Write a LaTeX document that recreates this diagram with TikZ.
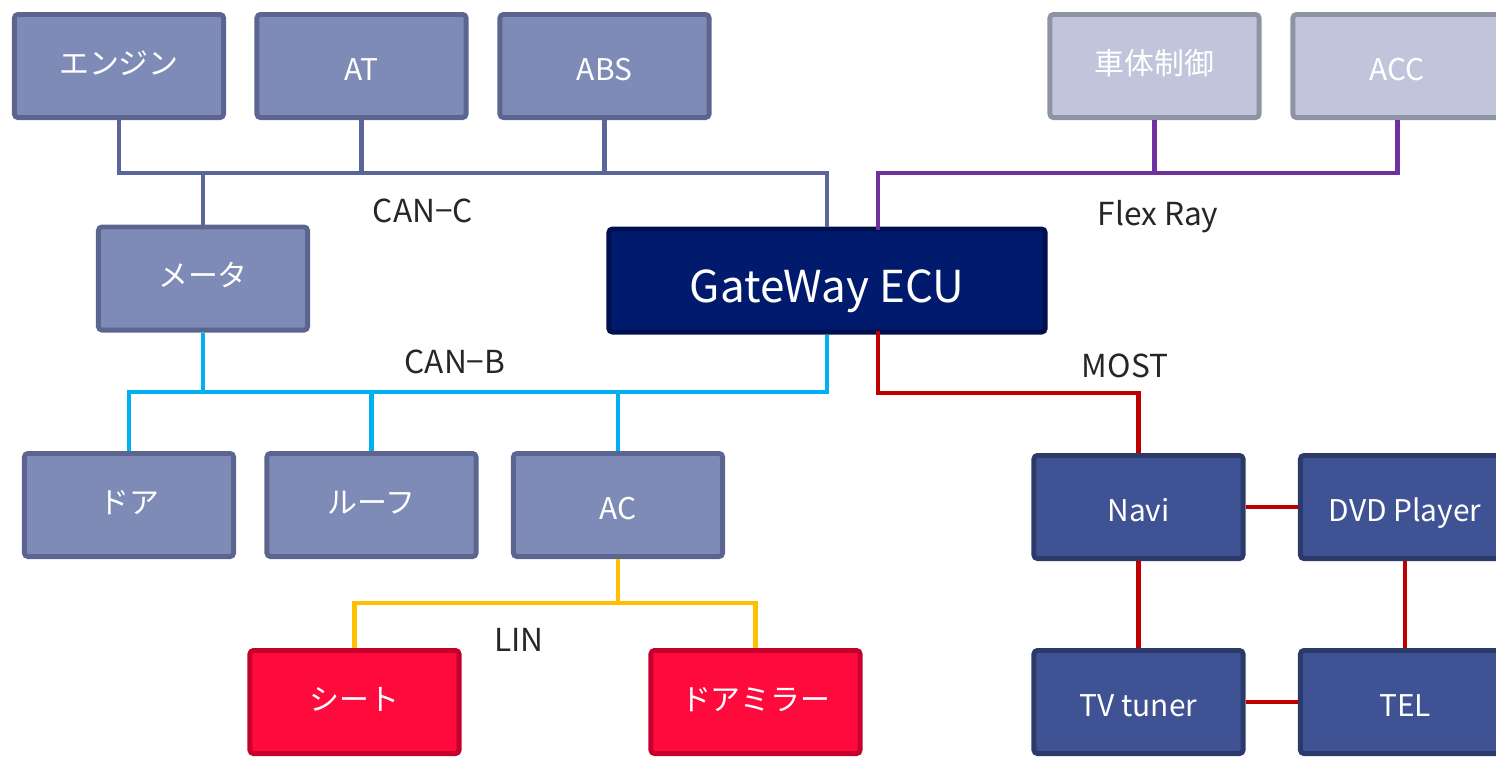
\documentclass[tikz,border=0pt]{standalone}
\usepackage{fontspec}
\setmainfont{Noto Sans CJK JP}
\definecolor{ecuMidFill}{HTML}{7F8BB7}
\definecolor{ecuMidLine}{HTML}{5B6590}
\definecolor{ecuLightFill}{HTML}{C0C5DC}
\definecolor{ecuLightLine}{HTML}{8F94A2}
\definecolor{gwFill}{HTML}{001A6E}
\definecolor{gwLine}{HTML}{00104F}
\definecolor{mmFill}{HTML}{3F5293}
\definecolor{mmLine}{HTML}{2C3A6A}
\definecolor{linFill}{HTML}{FF0A3C}
\definecolor{linLine}{HTML}{C4002C}
\definecolor{busCanC}{HTML}{5A6599}
\definecolor{busFlex}{HTML}{7030A0}
\definecolor{busCanB}{HTML}{00B0F0}
\definecolor{busMost}{HTML}{C00000}
\definecolor{busLin}{HTML}{FFC000}
\definecolor{busText}{HTML}{262626}
\begin{document}
\begin{tikzpicture}[x=0.01cm,y=-0.01cm,
  ecubox/.style={rectangle, rounded corners=1pt, line width=1.4pt,
    minimum width=2.09cm, minimum height=1.03cm, inner sep=0pt,
    text=white, font=\fontsize{8.5pt}{10pt}\selectfont,
    text height=9.2pt, text depth=1pt},
  jp/.style={text height=5.8pt, text depth=1pt},
  midbox/.style={ecubox, fill=ecuMidFill, draw=ecuMidLine},
  lightbox/.style={ecubox, fill=ecuLightFill, draw=ecuLightLine},
  mmbox/.style={ecubox, fill=mmFill, draw=mmLine},
  linbox/.style={ecubox, fill=linFill, draw=linLine},
  gwbox/.style={ecubox, fill=gwFill, draw=gwLine,
    minimum width=4.36cm, minimum height=1.03cm,
    font=\fontsize{12.5pt}{14pt}\selectfont,
    text height=13.3pt, text depth=1pt},
  bus/.style={line width=1.15pt, line join=miter},
  canc/.style={bus, draw=busCanC},
  flex/.style={bus, draw=busFlex},
  canb/.style={bus, draw=busCanB},
  most/.style={bus, draw=busMost},
  lin/.style={bus, draw=busLin},
  buslabel/.style={text=busText, inner sep=0pt, font=\fontsize{9pt}{11pt}\selectfont}]
\useasboundingbox (0,0) rectangle (1496,756);
\clip (0,0) rectangle (1496,756);

% ECUs on CAN-C / FlexRay
\node[midbox, jp] (engine) at (119,66) {エンジン};
\node[midbox] (at) at (361.5,66) {AT};
\node[midbox] (abs) at (604.5,66) {ABS};
\node[lightbox, jp] (body) at (1154.5,66) {車体制御};
\node[lightbox] (acc) at (1397.5,66) {ACC};
\node[midbox, jp] (meter) at (203,278.5) {メータ};
\node[gwbox] (gw) at (827,280.5) {GateWay ECU};

% ECUs on CAN-B
\node[midbox, jp] (door) at (129,505) {ドア};
\node[midbox, jp] (roof) at (371.5,505) {ルーフ};
\node[midbox] (ac) at (618,505) {AC};

% MOST ring
\node[mmbox] (navi) at (1138.5,507) {Navi};
\node[mmbox] (dvd) at (1405,507) {DVD Player};
\node[mmbox] (tv) at (1138.5,702) {TV tuner};
\node[mmbox] (tel) at (1405,702) {TEL};

% LIN slaves
\node[linbox, jp] (seat) at (354.5,702) {シート};
\node[linbox, jp] (mirror) at (755.5,702) {ドアミラー};

% bus rails
\coordinate (cy) at (0,173);
\coordinate (by) at (0,392);
\coordinate (my) at (0,393);
\coordinate (ly) at (0,603);
\coordinate (gwFR) at (878,230);
\coordinate (gwMO) at (878,331);

% CAN-C
\draw[canc] (engine.south) |- (gw.north |- cy) -- (gw.north);
\draw[canc] (at.south) -- (at.south |- cy);
\draw[canc] (abs.south) -- (abs.south |- cy);
\draw[canc] (meter.north) -- (meter.north |- cy);

% FlexRay
\draw[flex] (acc.south) |- (gwFR |- cy) -- (gwFR);
\draw[flex] (body.south) -- (body.south |- cy);

% CAN-B
\draw[canb] (meter.south) -- (meter.south |- by);
\draw[canb] (door.north) |- (gw.south |- by) -- (gw.south);
\draw[canb] (roof.north) -- (roof.north |- by);
\draw[canb] (ac.north) -- (ac.north |- by);

% MOST
\draw[most] (gwMO) |- (navi.north |- my) -- (navi.north);
\draw[most] (navi.east) -- (dvd.west);
\draw[most] (navi.south) -- (tv.north);
\draw[most] (dvd.south) -- (tel.north);
\draw[most] (tv.east) -- (tel.west);

% LIN
\draw[lin] (ac.south) -- (ac.south |- ly);
\draw[lin] (seat.north) |- (mirror.north |- ly) -- (mirror.north);

% bus names
\node[buslabel] (lblCanC) at (423,211) {CAN−C};
\node[buslabel] (lblFlex) at (1158,217) {Flex Ray};
\node[buslabel] (lblCanB) at (455,362) {CAN−B};
\node[buslabel] (lblMost) at (1125,366) {MOST};
\node[buslabel] (lblLin) at (519,640) {LIN};
\end{tikzpicture}
\end{document}
